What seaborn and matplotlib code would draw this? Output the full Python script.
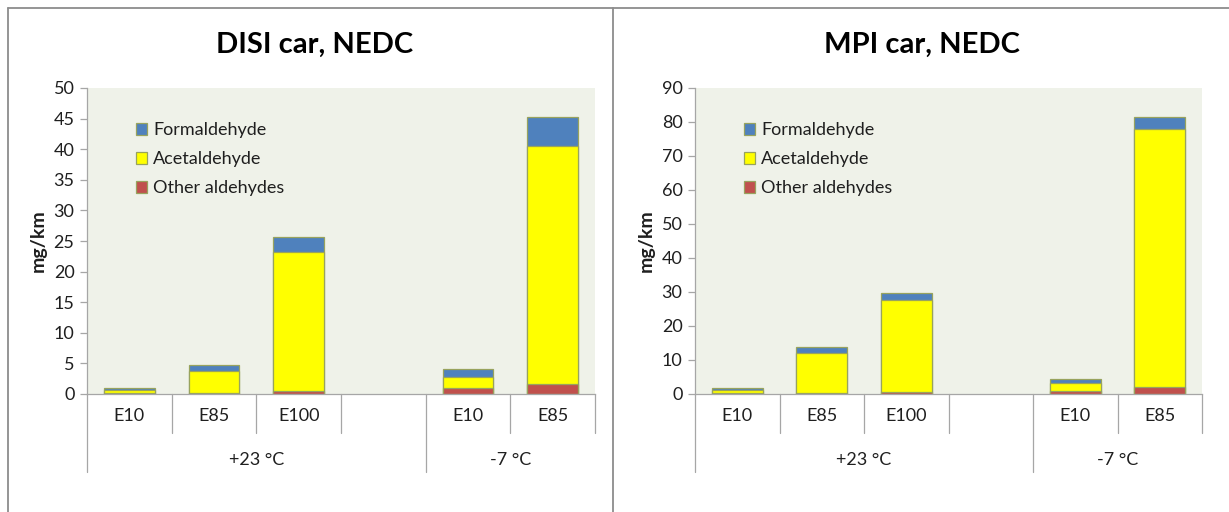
import numpy as np
import pandas as pd
import matplotlib
matplotlib.use("Agg")
import matplotlib.pyplot as plt
from matplotlib.lines import Line2D
from matplotlib.patches import Patch
from matplotlib.transforms import blended_transform_factory
import seaborn as sns

# Test points: fuel and ambient temperature
fuels = ["E10", "E85", "E100", "E10", "E85"]
temps = ["+23 °C", "+23 °C", "+23 °C", "-7 °C", "-7 °C"]
temp_groups = ["+23 °C", "-7 °C"]
components = ["Formaldehyde", "Acetaldehyde", "Other aldehydes"]

# Aldehyde emissions, mg/km
disi_other = [0.2, 0.1, 0.5, 0.9, 1.6]
disi_acet = [0.4, 3.6, 22.7, 1.9, 39.0]
disi_form = [0.4, 1.0, 2.5, 1.3, 4.7]

mpi_other = [0.2, 0.2, 0.6, 1.0, 2.2]
mpi_acet = [1.0, 11.9, 27.0, 2.1, 75.7]
mpi_form = [0.7, 1.6, 2.1, 1.4, 3.7]

colors = {"Formaldehyde": "#4F81BD", "Acetaldehyde": "#FFFF00",
          "Other aldehydes": "#C0504D"}
EDGE = "#98A35E"
AXIS_GREY = "#A6A6A6"
TEXT = "#1F1F1F"
PLOT_BG = "#EFF2E9"
FS = 13

sns.set_theme(style="white")
plt.rcParams["font.family"] = ["Lato", "DejaVu Sans"]

W, H = 1229, 512
fig = plt.figure(figsize=(W / 100, H / 100), dpi=100)


def px_axes(x0, y0, x1, y1):
    return fig.add_axes([x0 / W, 1 - y1 / H, (x1 - x0) / W, (y1 - y0) / H])


# slot keys: three +23 °C points, an empty gap, two -7 °C points
keys = [f"{f} {t}" for f, t in zip(fuels, temps)]
order = keys[:3] + ["gap"] + keys[3:]
slot_fuels = fuels[:3] + [""] + fuels[3:]


def panel(ax, other, acet, form, ymax, ystep):
    df = pd.DataFrame({"slot": keys, "other": other, "acet": acet, "form": form})
    df["lvl_acet"] = df["other"] + df["acet"]
    df["lvl_form"] = df["lvl_acet"] + df["form"]
    ax.set_facecolor(PLOT_BG)
    for col, comp in [("lvl_form", "Formaldehyde"), ("lvl_acet", "Acetaldehyde"),
                      ("other", "Other aldehydes")]:
        sns.barplot(data=df, x="slot", y=col, order=order, color=colors[comp],
                    saturation=1, width=0.6, edgecolor=EDGE, linewidth=0.9,
                    errorbar=None, ax=ax)
    ax.set_xlim(-0.5, 5.5)
    ax.set_ylim(0, ymax)
    ax.set_yticks(np.arange(0, ymax + ystep / 2, ystep))
    ax.set_xticks([])
    ax.set_xlabel("")
    ax.set_ylabel("mg/km", fontsize=14, fontweight="bold", color=TEXT, labelpad=5)
    ax.tick_params(axis="y", left=True, length=5, width=0.9, color=AXIS_GREY,
                   labelsize=FS, labelcolor=TEXT, pad=4)
    for s in ["top", "right"]:
        ax.spines[s].set_visible(False)
    for s in ["left", "bottom"]:
        ax.spines[s].set_color(AXIS_GREY)
        ax.spines[s].set_linewidth(0.9)

    # two-level category axis
    tr = blended_transform_factory(ax.transData, ax.transAxes)
    y_short, y_long = -0.128, -0.255
    for x in [0.5, 1.5, 2.5, 4.5, 5.5]:
        ax.add_line(Line2D([x, x], [0, y_short], transform=tr, color=AXIS_GREY,
                           lw=0.9, clip_on=False))
    for x in [-0.5, 3.5]:
        ax.add_line(Line2D([x, x], [0, y_long], transform=tr, color=AXIS_GREY,
                           lw=0.9, clip_on=False))
    for i, lab in enumerate(slot_fuels):
        ax.text(i, -0.072, lab, transform=tr, ha="center", va="center",
                fontsize=FS, color=TEXT)
    for xc, lab in zip([1.5, 4.5], temp_groups):
        ax.text(xc, -0.215, lab, transform=tr, ha="center", va="center",
                fontsize=FS, color=TEXT)

    handles = [Patch(facecolor=colors[c], edgecolor=EDGE, linewidth=0.9, label=c)
               for c in components]
    ax.legend(handles=handles, loc="upper left", bbox_to_anchor=(0.097, 0.888),
              frameon=False, fontsize=FS, handlelength=0.6, handleheight=0.6,
              handletextpad=0.35, labelspacing=0.72, borderaxespad=0, borderpad=0,
              labelcolor=TEXT)


ax1 = px_axes(87, 88, 595, 394)
panel(ax1, disi_other, disi_acet, disi_form, 50, 5)
ax2 = px_axes(695, 88, 1202, 394)
panel(ax2, mpi_other, mpi_acet, mpi_form, 90, 10)

fig.text(315 / W, 1 - 45 / H, "DISI car, NEDC", ha="center", va="center",
         fontsize=21, fontweight="bold", color="black")
fig.text(922 / W, 1 - 45 / H, "MPI car, NEDC", ha="center", va="center",
         fontsize=21, fontweight="bold", color="black")

# chart frames
FRAME = "#8C8C8C"
for xs, ys in [([8, W], [8, 8]), ([8, 8], [8, H]), ([613, 613], [8, H])]:
    fig.add_artist(Line2D([x / W for x in xs], [1 - y / H for y in ys],
                          transform=fig.transFigure, color=FRAME, lw=1.3))

fig.savefig("out.png", dpi=100)
